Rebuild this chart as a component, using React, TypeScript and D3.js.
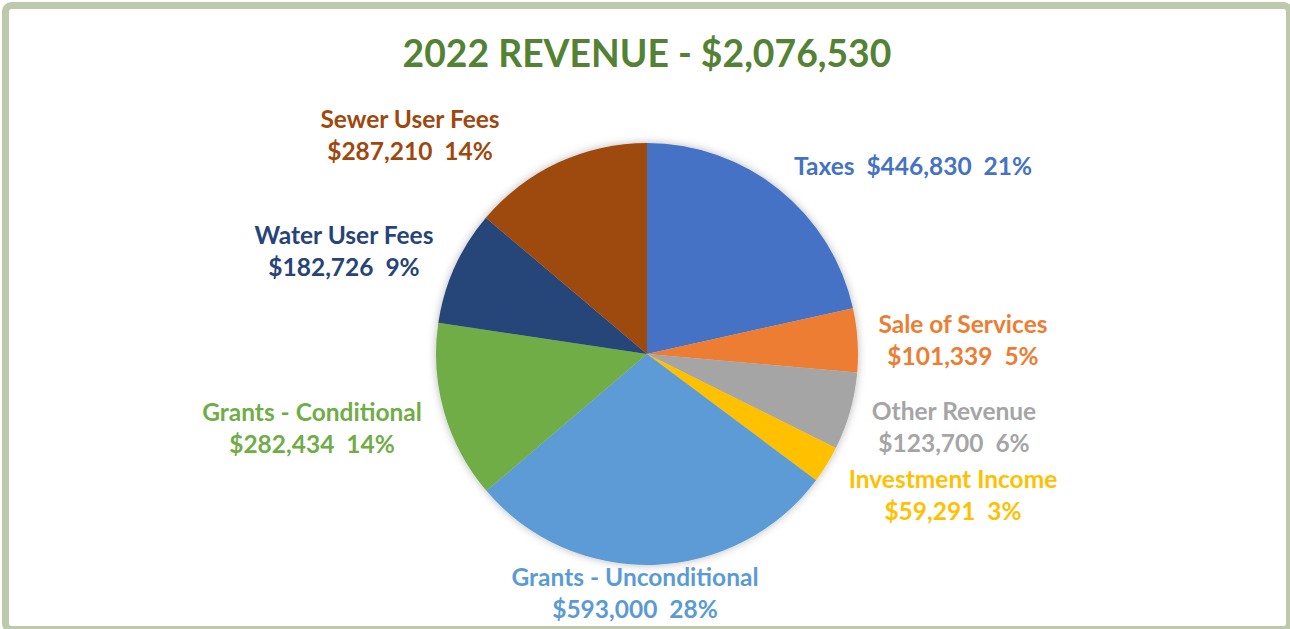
import React from "react";
import * as d3 from "d3";

const categories = [
  "Taxes",
  "Sale of Services",
  "Other Revenue",
  "Investment Income",
  "Grants - Unconditional",
  "Grants - Conditional",
  "Water User Fees",
  "Sewer User Fees",
];
const values = [446830, 101339, 123700, 59291, 593000, 282434, 182726, 287210];
const colors = ["#4472C4", "#ED7D31", "#A5A5A5", "#FFC000", "#5B9BD5", "#70AD47", "#264478", "#9E480E"];
const titleText = "2022 REVENUE - $2,076,530";

// label layout: center offsets from pie center, single-line flag
const labelLayout: { dx: number; dy: number; single?: boolean }[] = [
  { dx: 266, dy: -189, single: true },
  { dx: 316, dy: -31 },
  { dx: 307, dy: 56 },
  { dx: 306, dy: 124 },
  { dx: -12, dy: 222 },
  { dx: -335, dy: 57 },
  { dx: -303, dy: -120 },
  { dx: -237, dy: -236 },
];

const W = 1290;
const H = 629;
const cx = 647;
const cy = 354;
const R = 211;
const FONT = "Lato, 'Open Sans', sans-serif";

// Excel-style percentages that sum to 100 (largest remainder)
function percents(vals: number[]): number[] {
  const total = d3.sum(vals);
  const raw = vals.map((v) => (v / total) * 100);
  const fl = raw.map((r) => Math.floor(r));
  let rest = 100 - d3.sum(fl);
  const order = raw.map((r, i) => [r - Math.floor(r), i]).sort((a, b) => b[0] - a[0]);
  for (let k = 0; k < order.length && rest > 0; k++, rest--) fl[order[k][1]] += 1;
  return fl;
}

export default function App() {
  const pie = d3.pie<number>().sort(null).value((d) => d);
  const arcs = pie(values);
  const arc = d3.arc<d3.PieArcDatum<number>>().innerRadius(0).outerRadius(R);
  const money = d3.format("$,");
  const pcts = percents(values);

  return (
    <svg width={W} height={H} style={{ position: "absolute", left: 0, top: 0, display: "block" }}>
      <defs>
        <filter id="shadow" x="-20%" y="-20%" width="140%" height="140%">
          <feDropShadow dx="0" dy="0" stdDeviation="4" floodColor="#000" floodOpacity="0.28" />
        </filter>
      </defs>
      <rect x={0} y={0} width={W} height={H} fill="#fff" />
      <rect x={5.5} y={5.5} width={1284} height={624} rx={6} ry={6} fill="#fff" stroke="#BCC9AB" strokeWidth={7} />
      <text
        x={647}
        y={52}
        textAnchor="middle"
        dominantBaseline="central"
        fontFamily={FONT}
        fontWeight={700}
        fontSize={37.3}
        fill="#548235"
      >
        {titleText}
      </text>
      <g transform={`translate(${cx},${cy})`}>
        <g filter="url(#shadow)">
          {arcs.map((a, i) => (
            <path key={i} d={arc(a) || ""} fill={colors[i]} />
          ))}
        </g>
      </g>
      {arcs.map((a, i) => {
        const L = labelLayout[i];
        const x = cx + L.dx;
        const y = cy + L.dy;
        const valLine = `${money(values[i])}  ${pcts[i]}%`;
        const common = {
          textAnchor: "middle" as const,
          dominantBaseline: "central" as const,
          fontFamily: FONT,
          fontWeight: 700,
          fontSize: 24.5,
          fill: colors[i],
          style: { whiteSpace: "pre" as const },
        };
        if (L.single) {
          return (
            <text key={i} x={x} y={y} {...common}>
              {`${categories[i]}  ${valLine}`}
            </text>
          );
        }
        return (
          <g key={i}>
            <text x={x} y={y} {...common}>
              {categories[i]}
            </text>
            <text x={x} y={y + 32} {...common}>
              {valLine}
            </text>
          </g>
        );
      })}
    </svg>
  );
}
